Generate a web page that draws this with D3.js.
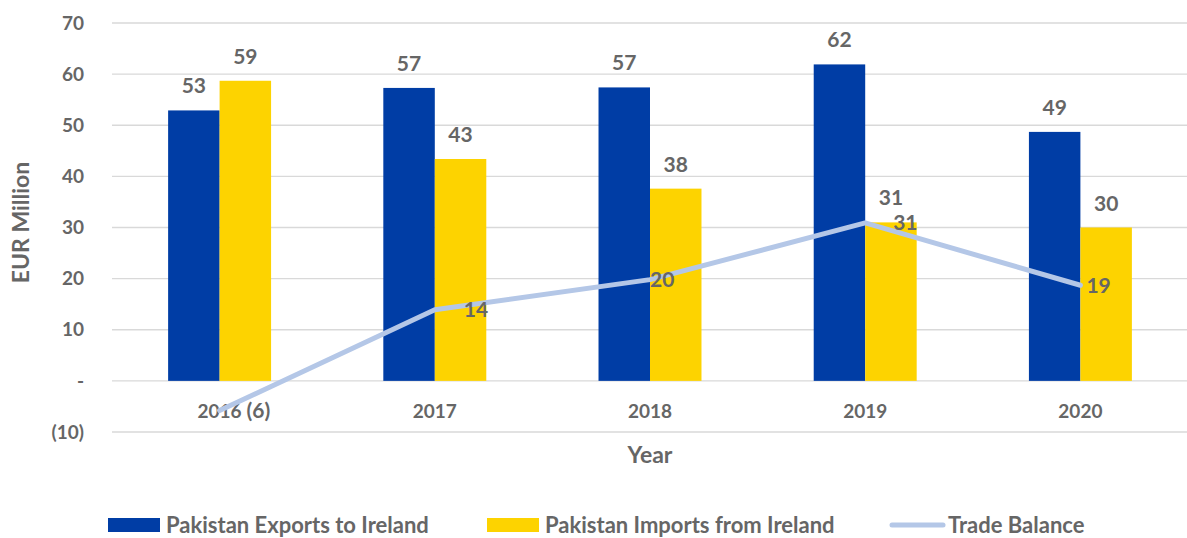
<!DOCTYPE html>
<html>
<head>
<meta charset="utf-8">
<script src="https://cdn.jsdelivr.net/npm/d3@7"></script>
<style>
  body { margin: 0; background: #fff; }
  svg text { font-family: Lato, "Open Sans", sans-serif; font-weight: bold; fill: #666; }
</style>
</head>
<body>
<div id="chart"></div>
<script>
// Data
var years = ["2016", "2017", "2018", "2019", "2020"];
var exportsToIreland = [52.9, 57.3, 57.4, 61.9, 48.7];
var importsFromIreland = [58.7, 43.4, 37.6, 31.0, 30.0];
var tradeBalance = [-5.8, 13.9, 19.8, 30.9, 18.7];
var yTicks = [-10, 0, 10, 20, 30, 40, 50, 60, 70];

// label nudges for the trade balance labels (px, to the right of the point)
var balanceLabelDx = [27, 29, 0, 28, 6];

var W = 1187, H = 538;
var margin = {top: 23, right: 0, bottom: 106, left: 112},
    width = 1188 - margin.left,
    height = H - margin.top - margin.bottom;

var svg = d3.select("#chart").append("svg")
    .attr("width", W).attr("height", H)
  .append("g")
    .attr("transform", "translate(" + margin.left + "," + margin.top + ")");

var x = d3.scaleBand().domain(years).range([0, width]);
var xSub = d3.scaleBand().domain(["exp", "imp"])
    .range([0, x.bandwidth()]).paddingOuter(1.09).paddingInner(0);
var y = d3.scaleLinear().domain([-10, 70]).range([height, 0]);

// gridlines
svg.append("g").selectAll("line")
    .data(yTicks).enter().append("line")
    .attr("x1", 0).attr("x2", width)
    .attr("y1", d => y(d)).attr("y2", d => y(d))
    .attr("stroke", "#d9d9d9").attr("stroke-width", 1.3);

// y axis labels
function fmt(v) {
    if (v === 0) return "-";
    if (v < 0) return "(" + Math.abs(v) + ")";
    return v;
}
svg.append("g").selectAll("text")
    .data(yTicks).enter().append("text")
    .attr("x", -28).attr("y", d => y(d))
    .attr("dy", "0.35em")
    .attr("text-anchor", "end")
    .style("font-size", "19px")
    .text(fmt);

// bars
var series = [
    {key: "exp", values: exportsToIreland, color: "#003da5"},
    {key: "imp", values: importsFromIreland, color: "#fdd300"}
];
series.forEach(function(s) {
    var g = svg.append("g");
    g.selectAll("rect")
        .data(s.values).enter().append("rect")
        .attr("x", (d, i) => x(years[i]) + xSub(s.key))
        .attr("y", d => y(d))
        .attr("width", xSub.bandwidth())
        .attr("height", d => y(0) - y(d))
        .attr("fill", s.color);
    g.selectAll("text")
        .data(s.values).enter().append("text")
        .attr("x", (d, i) => x(years[i]) + xSub(s.key) + xSub.bandwidth() / 2)
        .attr("y", d => y(d) - 17)
        .attr("text-anchor", "middle")
        .style("font-size", "21px")
        .text(d => Math.round(d));
});

// x axis labels
svg.append("g").selectAll("text")
    .data(years).enter().append("text")
    .attr("x", d => x(d) + x.bandwidth() / 2)
    .attr("y", y(-6))
    .attr("dy", "0.35em")
    .attr("text-anchor", "middle")
    .style("font-size", "19px")
    .text(d => d);

// trade balance line
var line = d3.line()
    .x((d, i) => x(years[i]) + x.bandwidth() / 2)
    .y(d => y(d));
svg.append("path")
    .datum(tradeBalance)
    .attr("d", line)
    .attr("fill", "none")
    .attr("stroke", "#b4c7e7")
    .attr("stroke-width", 5)
    .attr("stroke-linejoin", "round")
    .attr("stroke-linecap", "round");

svg.append("g").selectAll("text")
    .data(tradeBalance).enter().append("text")
    .attr("x", (d, i) => x(years[i]) + x.bandwidth() / 2 + balanceLabelDx[i])
    .attr("y", d => y(d))
    .attr("dy", "0.35em")
    .style("font-size", "21px")
    .text(d => d < 0 ? "(" + Math.abs(Math.round(d)) + ")" : Math.round(d));

// axis titles
svg.append("text")
    .attr("transform", "rotate(-90)")
    .attr("x", -(y(30) - 5))
    .attr("y", -margin.left + 29)
    .attr("text-anchor", "middle")
    .style("font-size", "23px")
    .text("EUR Million");

svg.append("text")
    .attr("x", width / 2 + 0)
    .attr("y", height + 31)
    .attr("text-anchor", "middle")
    .style("font-size", "23px")
    .text("Year");

// legend
var legendItems = [
    {label: "Pakistan Exports to Ireland", color: "#003da5", type: "rect", x: 108},
    {label: "Pakistan Imports from Ireland", color: "#fdd300", type: "rect", x: 487},
    {label: "Trade Balance", color: "#b4c7e7", type: "line", x: 890}
];
var legend = d3.select("svg").append("g");
legendItems.forEach(function(it) {
    if (it.type === "rect") {
        legend.append("rect").attr("x", it.x).attr("y", 518)
            .attr("width", 52).attr("height", 14).attr("fill", it.color);
    } else {
        legend.append("line").attr("x1", it.x + 2).attr("x2", it.x + 53)
            .attr("y1", 525).attr("y2", 525)
            .attr("stroke", it.color).attr("stroke-width", 5)
            .attr("stroke-linecap", "round");
    }
    legend.append("text").attr("x", it.x + 58).attr("y", 525)
        .attr("dy", "0.35em")
        .style("font-size", "22px")
        .text(it.label);
});
</script>
</body>
</html>
